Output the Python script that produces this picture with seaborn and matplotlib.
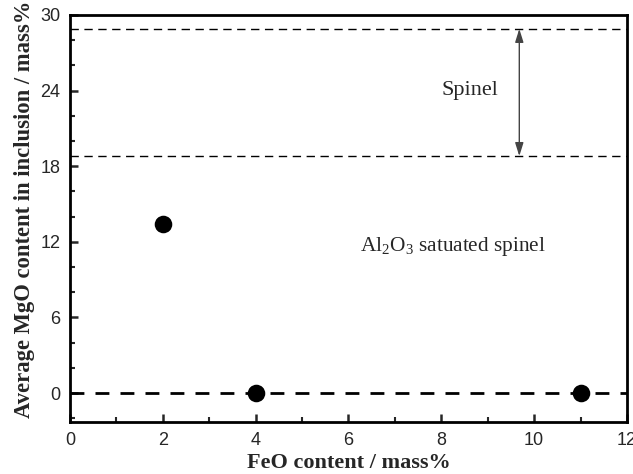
import matplotlib
matplotlib.use("Agg")
import matplotlib.pyplot as plt
import seaborn as sns
import pandas as pd
from matplotlib.ticker import MultipleLocator

# FeO vs. average MgO content of inclusions
feo = [2, 4, 11]
mgo = [13.4, 0.0, 0.0]

# Boundaries of the spinel region (MgO mass%)
spinel_upper = 28.9
spinel_lower = 18.8
zero_line = 0.0

df = pd.DataFrame({"FeO": feo, "MgO": mgo})

sns.set_style("white")
plt.rcParams["font.family"] = ["Liberation Sans", "DejaVu Sans"]
plt.rcParams["mathtext.fontset"] = "custom"
plt.rcParams["mathtext.rm"] = "Liberation Serif"

fig = plt.figure(figsize=(6.33, 4.74), dpi=100)
ax = fig.add_axes([0.1106, 0.1097, 0.8799, 0.8587])

for yv in (spinel_upper, spinel_lower):
    ax.axhline(yv, color="black", linestyle=(0, (6, 4)), linewidth=1.0, zorder=1)
ax.axhline(zero_line, color="black", linestyle=(0, (5, 4)), linewidth=2.0, zorder=1)

sns.scatterplot(data=df, x="FeO", y="MgO", ax=ax, s=160, color="black",
                edgecolor="black", linewidth=0, zorder=3, legend=False)

# Double-headed arrow spanning the spinel band
ax.annotate("", xy=(9.68, spinel_lower), xytext=(9.68, spinel_upper),
            arrowprops=dict(arrowstyle="<|-|>,head_length=0.8,head_width=0.25",
                            color="#444444", lw=1.0,
                            shrinkA=0, shrinkB=0, mutation_scale=10))
ax.text(8.62, 24.0, "Spinel", fontsize=16, family="Liberation Serif",
        ha="center", va="center")
ax.text(8.25, 11.6, r"Al$_\mathrm{2}$O$_\mathrm{3}$ satuated spinel", fontsize=15.3,
        family="Liberation Serif", ha="center", va="center")

ax.set_xlim(0, 12)
ax.set_ylim(-2.3, 30)
ax.xaxis.set_major_locator(MultipleLocator(2))
ax.xaxis.set_minor_locator(MultipleLocator(1))
ax.yaxis.set_major_locator(MultipleLocator(6))
ax.yaxis.set_minor_locator(MultipleLocator(2))
ax.tick_params(axis="both", which="major", direction="in", length=6, width=1.8,
               labelsize=13, pad=7, bottom=True, left=True, top=False, right=False)
ax.tick_params(axis="both", which="minor", direction="in", length=3.5, width=1.5,
               bottom=True, left=True, top=False, right=False)

for sp in ax.spines.values():
    sp.set_linewidth(2)
    sp.set_color("black")

ax.set_xlabel("FeO content / mass%", fontsize=16, fontweight="bold",
              family="Liberation Serif", labelpad=3)
ax.set_ylabel("Average MgO content in inclusion / mass%", fontsize=16.3,
              fontweight="bold", family="Liberation Serif")
ax.yaxis.set_label_coords(-0.063, 0.522)

fig.savefig("out.png", dpi=100)
